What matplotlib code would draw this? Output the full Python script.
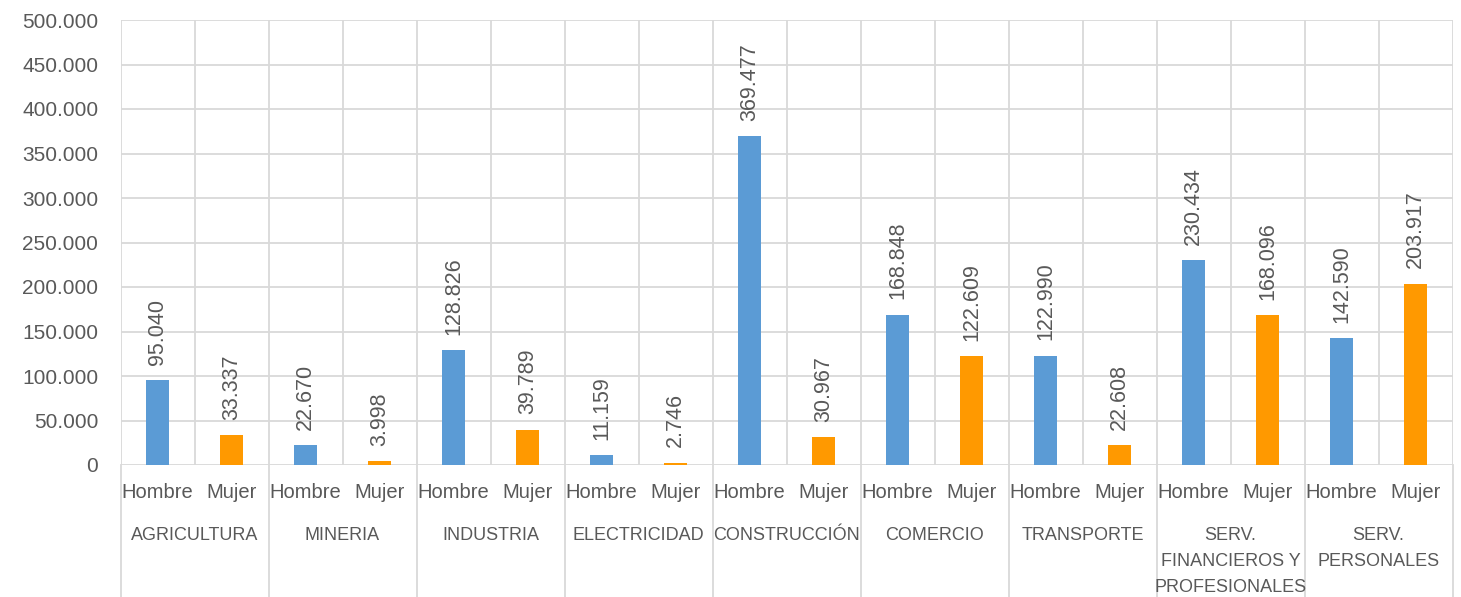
import numpy as np
import matplotlib.pyplot as plt
from matplotlib.transforms import blended_transform_factory

# Datos por sector
sectores = ["AGRICULTURA", "MINERIA", "INDUSTRIA", "ELECTRICIDAD", "CONSTRUCCIÓN",
            "COMERCIO", "TRANSPORTE", "SERV.\nFINANCIEROS Y\nPROFESIONALES",
            "SERV.\nPERSONALES"]
sexos = ["Hombre", "Mujer"]
hombres = [95040, 22670, 128826, 11159, 369477, 168848, 122990, 230434, 142590]
mujeres = [33337, 3998, 39789, 2746, 30967, 122609, 22608, 168096, 203917]

color_hombre = "#5B9BD5"
color_mujer = "#FF9900"
gris_texto = "#595959"
gris_linea = "#D9D9D9"

plt.rcParams["font.family"] = ["Liberation Sans", "DejaVu Sans"]


def fmt(v):
    return f"{v:,.0f}".replace(",", ".")


fig = plt.figure(figsize=(14.61, 5.97), dpi=100)
ax = fig.add_axes([120.5 / 1461, 1 - 465 / 597, 1332 / 1461, 445 / 597])

n = len(sectores)
x_h = np.arange(n) * 2
x_m = x_h + 1
valores = []
posiciones = []
for i in range(n):
    posiciones += [x_h[i], x_m[i]]
    valores += [hombres[i], mujeres[i]]

ax.bar(x_h, hombres, width=0.3, color=color_hombre, zorder=3)
ax.bar(x_m, mujeres, width=0.3, color=color_mujer, zorder=3)

# Etiquetas de valor rotadas
for x, v in zip(posiciones, valores):
    ax.annotate(fmt(v), (x, v), xytext=(0, 11), textcoords="offset points",
                rotation=90, ha="center", va="bottom", fontsize=15.5,
                color=gris_texto)

ax.set_ylim(0, 500000)
ax.set_xlim(-0.5, 2 * n - 0.5)
ax.set_yticks(np.arange(0, 500001, 50000))
ax.set_yticklabels([fmt(v) for v in np.arange(0, 500001, 50000)])
ax.tick_params(axis="y", length=0, pad=16, labelsize=15, labelcolor=gris_texto)

ax.set_xticks(posiciones)
ax.set_xticklabels(sexos * n)
ax.tick_params(axis="x", length=0, pad=13, labelsize=14.5, labelcolor=gris_texto)

ax.set_xticks(np.arange(-0.5, 2 * n), minor=True)
ax.tick_params(axis="x", which="minor", length=0)
ax.grid(True, which="minor", axis="x", color=gris_linea, lw=1.3, zorder=0)
ax.grid(True, which="major", axis="y", color=gris_linea, lw=1.3, zorder=0)
ax.grid(False, which="major", axis="x")
for s in ax.spines.values():
    s.set_visible(False)

# Separadores y nombres de sector bajo el eje
trans = blended_transform_factory(ax.transData, ax.transAxes)
y_fondo = -132 / 445
for k in range(n + 1):
    ax.plot([2 * k - 0.5, 2 * k - 0.5], [0, y_fondo], transform=trans,
            color=gris_linea, lw=1.3, clip_on=False)
for i, nombre in enumerate(sectores):
    ax.text(2 * i + 0.5, -62 / 445, nombre, transform=trans, ha="center",
            va="top", fontsize=13, color=gris_texto, linespacing=1.7)

fig.savefig("out.png", dpi=100)
